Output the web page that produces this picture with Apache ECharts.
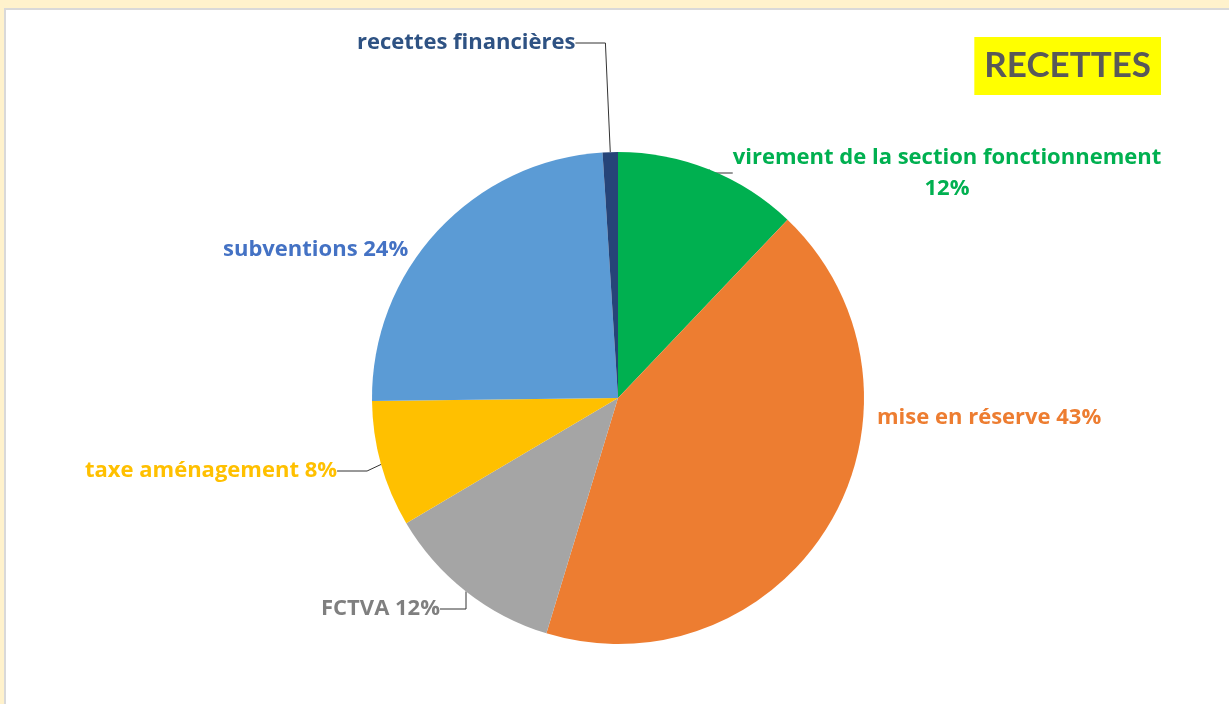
<!DOCTYPE html>
<html>
<head>
<meta charset="utf-8">
<script src="https://cdn.jsdelivr.net/npm/echarts@6/dist/echarts.min.js"></script>
<style>
  body { margin: 0; background: #fff2cc; }
  #frame { position: absolute; left: 4px; top: 8px; right: 0; bottom: 0; background: #fff;
           border-top: 2px solid #d9d9d9; border-left: 2px solid #d9d9d9; }
  #main { position: absolute; left: 0; top: 0; width: 1229px; height: 704px; }
</style>
</head>
<body>
<div id="frame"></div>
<div id="main"></div>
<script>
  var names = ['virement de la section fonctionnement', 'mise en réserve', 'FCTVA',
               'taxe aménagement', 'subventions', 'recettes financières'];
  var values = [12.1, 42.6, 11.8, 8.3, 24.2, 1.0];
  var colors = ['#00b050', '#ed7d31', '#a5a5a5', '#ffc000', '#5b9bd5', '#264478'];
  var textColors = ['#00b050', '#ed7d31', '#7f7f7f', '#ffc000', '#4472c4', '#2e5283'];
  var showPct = [true, true, true, true, true, false];
  var sep = ['\n', ' ', ' ', ' ', ' ', ' '];

  // position des étiquettes (left/middle sauf virement centré)
  var labelPos = [
    { x: 947, y: 173, align: 'center' },
    { x: 877, y: 418, align: 'left' },
    { x: 321, y: 609, align: 'left' },
    { x: 85, y: 471, align: 'left' },
    { x: 223, y: 250, align: 'left' },
    { x: 357, y: 43, align: 'left' }
  ];
  var hasLine = [true, false, true, true, false, true];

  var myChart = echarts.init(document.getElementById('main'));

  var data = names.map(function (n, i) {
    return {
      name: n,
      value: values[i],
      itemStyle: { color: colors[i] },
      label: { color: textColors[i] },
      labelLine: { show: hasLine[i] }
    };
  });

  var option = {
    animation: false,
    title: {
      text: 'RECETTES',
      right: 68,
      top: 37,
      backgroundColor: '#ffff00',
      padding: [11, 10, 11, 10],
      textStyle: { fontFamily: 'Lato', fontWeight: 'bold', fontSize: 35, lineHeight: 36, color: '#595959' }
    },
    series: [{
      type: 'pie',
      center: [618, 398],
      radius: 246,
      startAngle: 90,
      clockwise: true,
      data: data,
      label: {
        show: true,
        fontFamily: 'Open Sans',
        fontWeight: 'bold',
        fontSize: 22,
        lineHeight: 31,
        formatter: function (p) {
          var i = p.dataIndex;
          return showPct[i] ? p.name + sep[i] + Math.round(p.percent) + '%' : p.name;
        }
      },
      labelLine: {
        lineStyle: { color: '#333', width: 1 }
      },
      labelLayout: function (p) {
        var lp = labelPos[p.dataIndex];
        return { x: lp.x, y: lp.y, align: lp.align, verticalAlign: 'middle' };
      }
    }]
  };
  myChart.setOption(option);
</script>
</body>
</html>
